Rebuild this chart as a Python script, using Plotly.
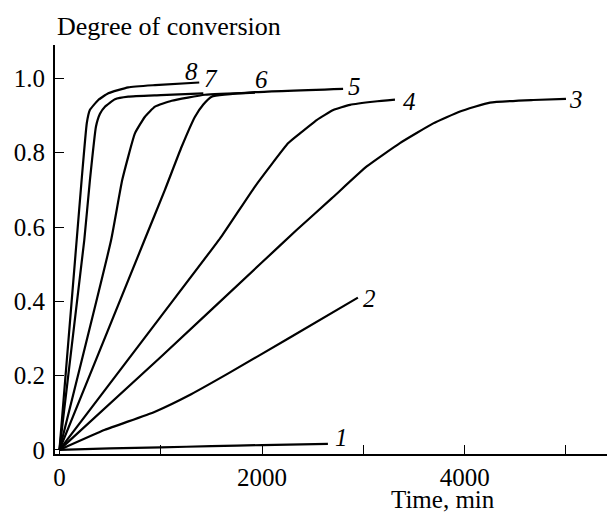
import plotly.graph_objects as go

# ---- data ----
c1_x = [0, 500, 1000, 1500, 2000, 2650]
c1_y = [0, 0.004, 0.007, 0.010, 0.013, 0.016]

c2_x = [0, 449, 943, 1300, 1667, 2259, 2946]
c2_y = [0, 0.054, 0.103, 0.150, 0.206, 0.300, 0.410]

c3_x = [0, 1000, 2000, 2341, 2687, 3033, 3361, 3690, 3954, 4250, 4677, 5000]
c3_y = [0, 0.250, 0.505, 0.592, 0.677, 0.763, 0.826, 0.879, 0.911, 0.935, 0.942, 0.945]

c4_x = [0, 1000, 1600, 1930, 2259, 2374, 2539, 2703, 2868, 3115, 3312]
c4_y = [0, 0.359, 0.575, 0.709, 0.826, 0.852, 0.888, 0.915, 0.929, 0.938, 0.943]

c5_x = [0, 840, 1041, 1206, 1338, 1420, 1502, 1930, 2800]
c5_y = [0, 0.565, 0.700, 0.816, 0.897, 0.930, 0.951, 0.963, 0.972]

c6_x = [0, 510, 620, 745, 844, 943, 1108, 1436, 1930]
c6_y = [0, 0.565, 0.727, 0.852, 0.897, 0.924, 0.940, 0.956, 0.962]

c7_x = [0, 245, 301, 360, 400, 449, 548, 679, 1000, 1420]
c7_y = [0, 0.565, 0.727, 0.870, 0.905, 0.924, 0.944, 0.951, 0.955, 0.960]

c8_x = [0, 170, 219, 270, 300, 383, 482, 679, 943, 1380]
c8_y = [0, 0.565, 0.727, 0.880, 0.915, 0.942, 0.960, 0.976, 0.982, 0.989]

curves = [(c1_x, c1_y), (c2_x, c2_y), (c3_x, c3_y), (c4_x, c4_y),
          (c5_x, c5_y), (c6_x, c6_y), (c7_x, c7_y), (c8_x, c8_y)]

label_text = ["1", "2", "3", "4", "5", "6", "7", "8"]
label_x = [2784, 3065, 5099, 3460, 2917, 1999, 1496, 1308]
label_y = [0.034, 0.408, 0.942, 0.939, 0.977, 0.996, 0.999, 1.020]

x_tickvals = [0, 1000, 2000, 3000, 4000, 5000]
x_ticktext = ["0", "", "2000", "", "4000", ""]
y_tickvals = [0, 0.2, 0.4, 0.6, 0.8, 1.0]
y_ticktext = ["0", "0.2", "0.4", "0.6", "0.8", "1.0"]

FONT = "Liberation Serif"
FS = 25

fig = go.Figure()
for cx, cy in curves:
    fig.add_trace(go.Scatter(x=cx, y=cy, mode="lines",
                             line=dict(color="black", width=2.2, shape="spline", smoothing=0.4),
                             showlegend=False, hoverinfo="skip"))

for t, lx, ly in zip(label_text, label_x, label_y):
    fig.add_annotation(x=lx, y=ly, text="<i>%s</i>" % t, showarrow=False,
                       xanchor="center", yanchor="middle",
                       font=dict(family=FONT, size=FS, color="black"))

fig.add_annotation(xref="paper", yref="paper", x=0.0, y=1.045,
                   text="Degree of conversion", showarrow=False,
                   xanchor="left", yanchor="middle",
                   font=dict(family=FONT, size=FS + 1, color="black"))
fig.add_annotation(xref="paper", yref="paper", x=0.693, y=-0.112,
                   text="Time, min", showarrow=False, borderpad=0,
                   xanchor="center", yanchor="middle",
                   font=dict(family=FONT, size=FS, color="black"))

# page body has an 8px default margin, so the figure is offset by 8px
fig.update_layout(
    width=607, height=507,
    margin=dict(l=47, r=0, t=37, b=61),
    paper_bgcolor="white", plot_bgcolor="white",
    font=dict(family=FONT, size=FS, color="black"),
    xaxis=dict(range=[-44, 5484], tickvals=x_tickvals, ticktext=x_ticktext,
               ticks="inside", ticklen=9, tickwidth=1.3, tickcolor="black",
               showline=True, linecolor="black", linewidth=1.8,
               showgrid=False, zeroline=False, automargin=False),
    yaxis=dict(range=[-0.011, 1.09], tickvals=y_tickvals, ticktext=y_ticktext,
               ticks="inside", ticklen=9, tickwidth=1.3, tickcolor="black",
               showline=True, linecolor="black", linewidth=1.8,
               ticklabelstandoff=3,
               showgrid=False, zeroline=False, automargin=False),
)

fig.write_html("out.html")
